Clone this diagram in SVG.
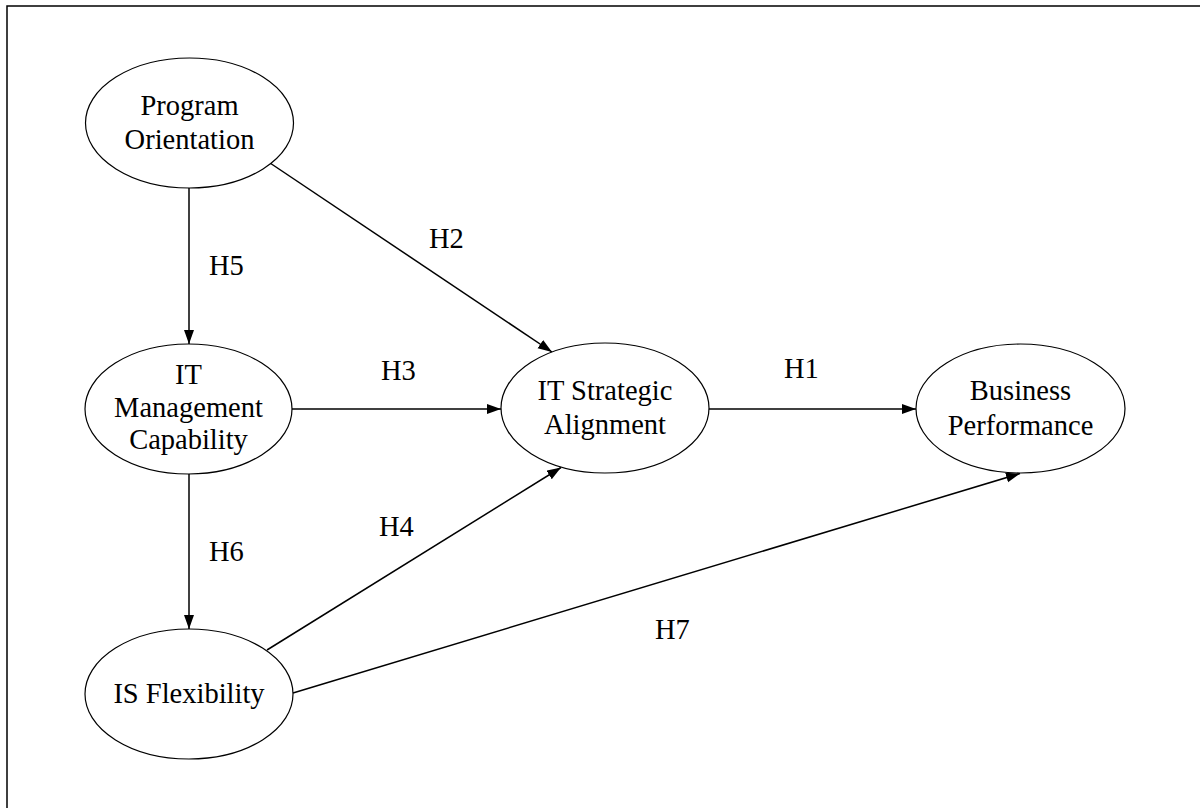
<svg xmlns="http://www.w3.org/2000/svg" width="1200" height="808" viewBox="0 0 1200 808">
<style>
.node ellipse{fill:#fff;stroke:#000;stroke-width:1.2}
.node text{font-family:"Liberation Serif","Times New Roman",serif;font-size:28.5px;fill:#000;text-anchor:middle}
.edge line{stroke:#000;stroke-width:1.5;marker-end:url(#arrow)}
.lbl{font-family:"Liberation Serif","Times New Roman",serif;font-size:28.5px;fill:#000}
</style>
<defs>
<marker id="arrow" markerUnits="userSpaceOnUse" markerWidth="15" markerHeight="11" refX="14" refY="5" orient="auto">
<path d="M0,0 L14,5 L0,10 z" fill="#000"/>
</marker>
</defs>
<rect x="7" y="6" width="1200" height="810" fill="#fff" stroke="#000" stroke-width="1.5"/>
<g id="connectors" class="edge">
<line x1="189" y1="188" x2="189" y2="344"/>
<line x1="270" y1="163" x2="552" y2="352"/>
<line x1="292" y1="409" x2="501" y2="409"/>
<line x1="709" y1="409" x2="916" y2="409"/>
<line x1="189" y1="474" x2="189" y2="629"/>
<line x1="267" y1="650" x2="561" y2="467.5"/>
<line x1="293" y1="693" x2="1020" y2="473.5"/>
</g>
<g id="labels">
<text class="lbl" x="209" y="275">H5</text>
<text class="lbl" x="429" y="248">H2</text>
<text class="lbl" x="381" y="380">H3</text>
<text class="lbl" x="784" y="378">H1</text>
<text class="lbl" x="209" y="561">H6</text>
<text class="lbl" x="379" y="536">H4</text>
<text class="lbl" x="655" y="639">H7</text>
</g>
<g id="program-orientation" class="node">
<ellipse cx="189.5" cy="123" rx="104" ry="65"/>
<text x="189.5" y="115">Program</text>
<text x="189.5" y="149">Orientation</text>
</g>
<g id="it-management-capability" class="node">
<ellipse cx="188.5" cy="409" rx="103.5" ry="65"/>
<text x="188.5" y="384">IT</text>
<text x="188.5" y="417">Management</text>
<text x="188.5" y="449">Capability</text>
</g>
<g id="it-strategic-alignment" class="node">
<ellipse cx="605" cy="408" rx="104" ry="65"/>
<text x="605" y="400">IT Strategic</text>
<text x="605" y="434">Alignment</text>
</g>
<g id="business-performance" class="node">
<ellipse cx="1020.5" cy="408.5" rx="104.5" ry="64.5"/>
<text x="1020.5" y="400">Business</text>
<text x="1020.5" y="435">Performance</text>
</g>
<g id="is-flexibility" class="node">
<ellipse cx="189" cy="694" rx="104" ry="65"/>
<text x="189" y="703">IS Flexibility</text>
</g>
</svg>
